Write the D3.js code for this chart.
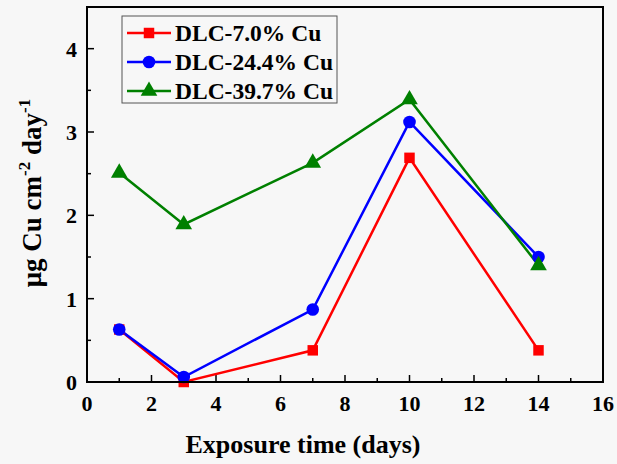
<!DOCTYPE html>
<html><head><meta charset="utf-8">
<script src="https://cdn.jsdelivr.net/npm/d3@7"></script>
<style>
html,body{margin:0;padding:0;background:#f7f7f7;}
text{font-family:"Liberation Serif","Times New Roman",serif;font-weight:bold;}
</style></head>
<body>
<svg id="chart" width="617" height="464"></svg>
<script>
const days = [1, 3, 7, 10, 14];
const cu7 = [0.63, 0.0, 0.38, 2.69, 0.38];
const cu24 = [0.63, 0.06, 0.87, 3.12, 1.50];
const cu39 = [2.51, 1.89, 2.63, 3.39, 1.40];
const seriesNames = ["DLC-7.0% Cu", "DLC-24.4% Cu", "DLC-39.7% Cu"];
const seriesColors = ["#ff0000", "#0000ff", "#008000"];
const seriesShapes = ["square", "circle", "triangle"];
const xTicks = [0, 2, 4, 6, 8, 10, 12, 14, 16];
const yTicks = [0, 1, 2, 3, 4];

const series = [cu7, cu24, cu39].map((vals, i) => ({
  name: seriesNames[i], color: seriesColors[i], shape: seriesShapes[i],
  pts: vals.map((v, j) => ({x: days[j], y: v}))
}));

const svg = d3.select("#chart");
const m = {l: 87, t: 7, r: 603, b: 382};
const x = d3.scaleLinear().domain([0, 16]).range([m.l, m.r]);
const y = d3.scaleLinear().domain([0, 4.5]).range([m.b, m.t]);

svg.append("rect").attr("width", 617).attr("height", 464).attr("fill", "#f7f7f7");

const g = svg.append("g");
g.selectAll("line.xminor").data(d3.range(1, 16, 2)).enter().append("line")
  .attr("x1", d => x(d)).attr("x2", d => x(d)).attr("y1", m.b).attr("y2", m.b - 4)
  .attr("stroke", "#000").attr("stroke-width", 1.5);
g.selectAll("line.xmajor").data(xTicks.slice(1, -1)).enter().append("line")
  .attr("x1", d => x(d)).attr("x2", d => x(d)).attr("y1", m.b).attr("y2", m.b - 7)
  .attr("stroke", "#000").attr("stroke-width", 1.5);
g.selectAll("line.yminor").data([0.5, 1.5, 2.5, 3.5]).enter().append("line")
  .attr("y1", d => y(d)).attr("y2", d => y(d)).attr("x1", m.l).attr("x2", m.l + 4)
  .attr("stroke", "#000").attr("stroke-width", 1.5);
g.selectAll("line.ymajor").data(yTicks.slice(1)).enter().append("line")
  .attr("y1", d => y(d)).attr("y2", d => y(d)).attr("x1", m.l).attr("x2", m.l + 7)
  .attr("stroke", "#000").attr("stroke-width", 1.5);

svg.selectAll("text.xt").data(xTicks).enter().append("text")
  .attr("x", d => x(d)).attr("y", 411).attr("text-anchor", "middle")
  .attr("font-size", 22).text(d => d);
svg.selectAll("text.yt").data(yTicks).enter().append("text")
  .attr("x", 77).attr("y", d => y(d) + 8).attr("text-anchor", "end")
  .attr("font-size", 22).text(d => d);

const line = d3.line().x(d => x(d.x)).y(d => y(d.y));
const sym = {square: d3.symbolSquare, circle: d3.symbolCircle, triangle: d3.symbolTriangle};
const symSize = {square: 110, circle: 125, triangle: 120};
series.forEach(s => {
  svg.append("path").datum(s.pts).attr("d", line).attr("fill", "none")
    .attr("stroke", s.color).attr("stroke-width", 2.5);
});
series.forEach(s => {
  svg.selectAll(null).data(s.pts).enter().append("path")
    .attr("transform", d => `translate(${x(d.x)},${y(d.y)})`)
    .attr("d", d3.symbol().type(sym[s.shape]).size(symSize[s.shape]))
    .attr("fill", s.color);
});

svg.append("rect").attr("x", m.l).attr("y", m.t).attr("width", m.r - m.l).attr("height", m.b - m.t)
  .attr("fill", "none").attr("stroke", "#000").attr("stroke-width", 2);

const lg = svg.append("g");
lg.append("rect").attr("x", 122).attr("y", 16).attr("width", 215).attr("height", 87)
  .attr("fill", "#f7f7f7").attr("stroke", "#555").attr("stroke-width", 1);
series.forEach((s, i) => {
  const yy = 33 + i * 29;
  lg.append("line").attr("x1", 127).attr("x2", 171).attr("y1", yy).attr("y2", yy)
    .attr("stroke", s.color).attr("stroke-width", 2.5);
  lg.append("path").attr("transform", `translate(149,${yy})`)
    .attr("d", d3.symbol().type(sym[s.shape]).size(symSize[s.shape])).attr("fill", s.color);
  lg.append("text").attr("x", 175).attr("y", yy + 8).attr("font-size", 23.5).text(s.name);
});

svg.append("text").attr("x", 303).attr("y", 453).attr("text-anchor", "middle")
  .attr("font-size", 26).text("Exposure time (days)");
const yt = svg.append("text").attr("transform", "translate(41,193) rotate(-90)")
  .attr("text-anchor", "middle").attr("font-size", 27);
yt.append("tspan").text("μg Cu cm");
yt.append("tspan").attr("dy", -11).attr("font-size", 17).text("-2");
yt.append("tspan").attr("dy", 11).text(" day");
yt.append("tspan").attr("dy", -11).attr("font-size", 17).text("-1");
</script>
</body></html>
